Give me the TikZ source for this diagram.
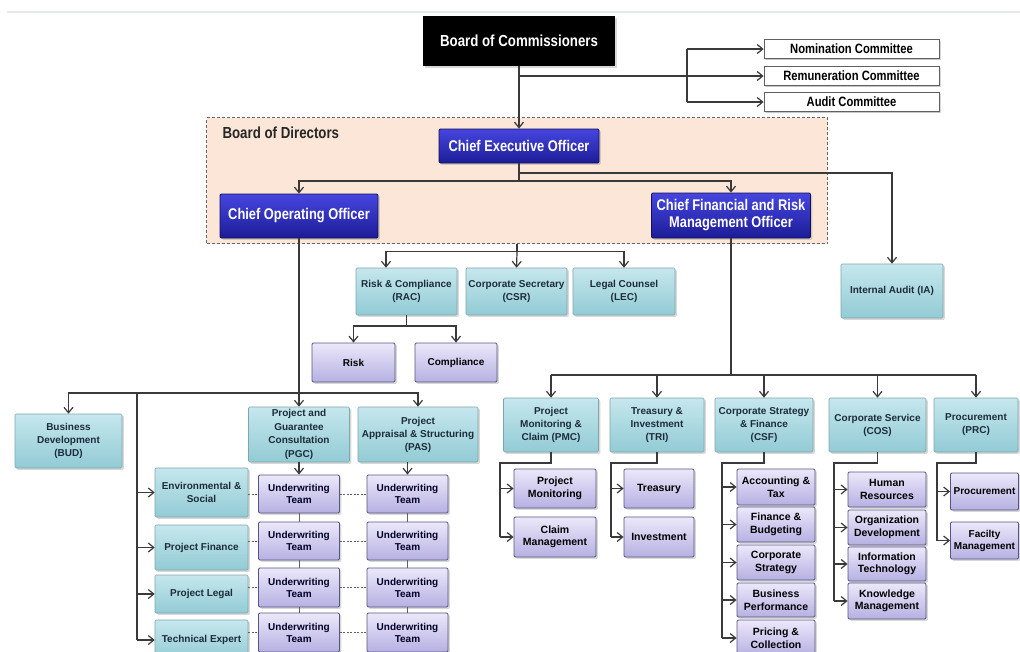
\documentclass[tikz,border=0pt]{standalone}
\usepackage{fontspec}
\setmainfont{Liberation Sans}
\newfontfamily\hdr[FakeStretch=0.83]{Liberation Sans}
\usetikzlibrary{arrows.meta,shadows,calc}

\definecolor{linec}{HTML}{3A3A3A}
\definecolor{peach}{HTML}{FBE6D8}
\definecolor{navyT}{HTML}{4646E0}
\definecolor{navyB}{HTML}{1C1C98}
\definecolor{navyD}{HTML}{101055}
\definecolor{tealT}{HTML}{C6E7ED}
\definecolor{tealB}{HTML}{92CBD5}
\definecolor{tealD}{HTML}{7FA6AE}
\definecolor{lavT}{HTML}{ECE8FA}
\definecolor{lavB}{HTML}{B6B0E2}
\definecolor{lavD}{HTML}{55557F}
\definecolor{inkT}{HTML}{1C2C3A}
\definecolor{topband}{HTML}{E8E8F0}

\tikzset{
  ln/.style={draw=linec, line width=1.2pt},
  arr/.style={ln, -{Straight Barb[length=5.5pt,width=9pt]}},
  thinln/.style={draw=linec!80, line width=0.8pt},
  dsh/.style={draw=linec!80, line width=0.9pt, dash pattern=on 2pt off 1.5pt},
  box/.style={rectangle, rounded corners=1.2pt, inner sep=1pt, align=center,
    drop shadow={shadow xshift=1.8pt, shadow yshift=-1.8pt, opacity=0.3}},
  blackbox/.style={box, rounded corners=0pt, fill=black, text=white,
    font={\hdr\bfseries\fontsize{16}{18}\selectfont}},
  combox/.style={box, rounded corners=0pt, fill=white, draw=gray!75!black, line width=0.8pt,
    text=black, font={\hdr\bfseries\fontsize{13.5}{15}\selectfont},
    drop shadow={shadow xshift=1.2pt, shadow yshift=-1.2pt, opacity=0.2}},
  navybox/.style={box, top color=navyT, bottom color=navyB, draw=navyD, line width=0.8pt,
    text=white, font={\hdr\bfseries\fontsize{15.5}{17}\selectfont}},
  tealbox/.style={box, top color=tealT, bottom color=tealB, draw=tealD, line width=0.6pt,
    text=inkT, font={\bfseries\fontsize{10}{13}\selectfont}},
  lavbox/.style={box, top color=lavT, bottom color=lavB, draw=lavD, line width=0.9pt,
    text=black, font={\bfseries\fontsize{10}{12}\selectfont}},
  lavboxR/.style={lavbox, font={\bfseries\fontsize{10.5}{12.5}\selectfont}},
  bodbox/.style={rectangle, fill=peach, draw=gray!80!black, line width=1.1pt,
    dash pattern=on 3pt off 2pt},
}

\begin{document}
\begin{tikzpicture}[x=1pt,y=-1pt]
\useasboundingbox (0,0) rectangle (1020,651);
\fill[white] (0,0) rectangle (1020,651);
\draw[topband, line width=2pt] (7,12) -- (1020,12);

% ---------- Board of Commissioners and committees ----------
\node[blackbox, minimum width=192, minimum height=50] (boc) at (519,41) {Board of Commissioners};
\node[combox, minimum width=175, minimum height=19] (nom) at (851.5,49) {Nomination Committee};
\node[combox, minimum width=175, minimum height=19] (rem) at (851.5,76) {Remuneration Committee};
\node[combox, minimum width=175, minimum height=19] (aud) at (851.5,102) {Audit Committee};

% ---------- Board of Directors ----------
\node[bodbox, minimum width=621, minimum height=126, anchor=north west] (bod) at (206,117) {};
\node[anchor=west, text=black!85, font={\hdr\bfseries\fontsize{16}{18}\selectfont}] (bodlbl) at (219,133) {Board of Directors};
\node[navybox, minimum width=160, minimum height=34] (ceo) at (519,146) {Chief Executive Officer};
\node[navybox, minimum width=158, minimum height=44] (coo) at (299,216) {Chief Operating Officer};
\node[navybox, minimum width=159, minimum height=45] (cfo) at (731,215.5) {Chief Financial and Risk\\Management Officer};

% ---------- units under the CEO ----------
\node[tealbox, minimum width=102, minimum height=54] (ia) at (892,291) {Internal Audit (IA)};
\node[tealbox, minimum width=101, minimum height=47] (rac) at (406.5,291.5) {Risk \& Compliance\\(RAC)};
\node[tealbox, minimum width=101, minimum height=47] (csr) at (516.5,291.5) {Corporate Secretary\\(CSR)};
\node[tealbox, minimum width=102, minimum height=47] (lec) at (624,291.5) {Legal Counsel\\(LEC)};
\node[lavbox, minimum width=83, minimum height=39] (risk) at (353.5,362.5) {Risk};
\node[lavbox, minimum width=82, minimum height=39] (comp) at (456,362.5) {Compliance};

% ---------- operations branch ----------
\node[tealbox, minimum width=107, minimum height=54] (bud) at (68.5,441) {Business\\Development\\(BUD)};
\node[tealbox, minimum width=101, minimum height=55, font={\bfseries\fontsize{10}{13.5}\selectfont}] (pgc) at (299,434.5) {Project and\\Guarantee\\Consultation\\(PGC)};
\node[tealbox, minimum width=120, minimum height=55] (pas) at (418,434.5) {Project\\Appraisal \& Structuring\\(PAS)};
\node[tealbox, minimum width=93, minimum height=49] (es) at (201.5,492.5) {Environmental \&\\Social};
\node[tealbox, minimum width=93, minimum height=45] (pf) at (201.5,547.5) {Project Finance};
\node[tealbox, minimum width=93, minimum height=38] (pl) at (201.5,594) {Project Legal};
\node[tealbox, minimum width=93, minimum height=40] (te) at (201.5,640) {Technical Expert};

\foreach \r/\yy/\hh in {a/494/38, b/541/38, c/587.5/39, d/632.5/39} {
  \node[lavbox, text=black!85!blue, minimum width=81, minimum height=\hh] (uw1\r) at (299,\yy) {Underwriting\\Team};
  \node[lavbox, text=black!85!blue, minimum width=81, minimum height=\hh] (uw2\r) at (407.5,\yy) {Underwriting\\Team};
}

% ---------- finance and risk branch ----------
\node[tealbox, minimum width=95, minimum height=54] (pmc) at (551,425) {Project\\Monitoring \&\\Claim (PMC)};
\node[tealbox, minimum width=94, minimum height=54] (tri) at (657,425) {Treasury \&\\Investment\\(TRI)};
\node[tealbox, minimum width=98, minimum height=54] (csf) at (764,425) {Corporate Strategy\\\& Finance\\(CSF)};
\node[tealbox, minimum width=97, minimum height=54] (cos) at (877.5,425) {Corporate Service\\(COS)};
\node[tealbox, minimum width=84, minimum height=54] (prc) at (976,425) {Procurement\\(PRC)};

\node[lavboxR, minimum width=82, minimum height=39] (pm) at (555,488.5) {Project\\Monitoring};
\node[lavboxR, minimum width=82, minimum height=40] (cm) at (555,537) {Claim\\Management};
\node[lavboxR, minimum width=70, minimum height=39] (tr) at (659,488.5) {Treasury};
\node[lavboxR, minimum width=70, minimum height=40] (inv) at (659,537) {Investment};

\node[lavboxR, minimum width=78, minimum height=36] (at) at (776,487) {Accounting \&\\Tax};
\node[lavboxR, minimum width=78, minimum height=35] (fb) at (776,524.5) {Finance \&\\Budgeting};
\node[lavboxR, minimum width=78, minimum height=35] (cs) at (776,562.5) {Corporate\\Strategy};
\node[lavboxR, minimum width=78, minimum height=34] (bp) at (776,600) {Business\\Performance};
\node[lavboxR, minimum width=78, minimum height=36] (pc) at (776,638) {Pricing \&\\Collection};

\node[lavboxR, minimum width=78, minimum height=35] (hr) at (887,489.5) {Human\\Resources};
\node[lavboxR, minimum width=78, minimum height=35] (od) at (887,527.5) {Organization\\Development};
\node[lavboxR, minimum width=78, minimum height=34] (it) at (887,564) {Information\\Technology};
\node[lavboxR, minimum width=78, minimum height=36] (km) at (887,601) {Knowledge\\Management};

\node[lavbox, inner sep=0.5pt, minimum width=68, minimum height=37] (pro) at (984.5,491.5) {Procurement};
\node[lavbox, inner sep=0.5pt, minimum width=68, minimum height=37] (fm) at (984.5,540.5) {Facilty\\Management};

% ---------- connectors: top ----------
\coordinate (kj) at (687,76);
\draw[arr] (boc.south) -- (ceo.north);
\draw[ln] (boc.south |- kj) -- (kj);
\draw[ln] (kj |- nom.west) -- (kj |- aud.west);
\draw[arr] (kj |- nom.west) -- (nom.west);
\draw[arr] (kj) -- (rem.west);
\draw[arr] (kj |- aud.west) -- (aud.west);

\coordinate (cj1) at (519,181);
\coordinate (cj2) at (519,173);
\draw[ln] (ceo.south) -- (cj1);
\draw[arr] (cj1) -| (coo.north);
\draw[arr] (cj1) -| (cfo.north);
\draw[arr] (cj2) -| (ia.north);

\coordinate (mj) at ($(bod.south)+(0,7)$);
\draw[ln] (bod.south) -- (mj);
\draw[arr] (mj) -| ([xshift=-20.5pt]rac.north);
\draw[arr] (mj) -- (csr.north);
\draw[arr] (mj) -| (lec.north);

\coordinate (rj) at (406.5,326);
\draw[ln] (rac.south) -- (rj);
\draw[arr] (rj) -| (risk.north);
\draw[arr] (rj) -| (comp.north);

% ---------- connectors: operations ----------
\coordinate (oj) at (299,393);
\coordinate (sp0) at (137,393);
\draw[ln] (coo.south) -- (oj);
\draw[arr] (oj) -| (bud.north);
\draw[arr] (oj) -- (pgc.north);
\draw[arr] (oj) -| (pas.north);
\draw[ln] (sp0) -- (sp0 |- te.west);
\foreach \n in {es,pf,pl,te} \draw[arr] (sp0 |- \n.west) -- (\n.west);

\draw[arr] (pgc.south) -- (uw1a.north);
\draw[arr] (pas.south -| uw2a.north) -- (uw2a.north);
\foreach \p/\q in {a/b, b/c, c/d} {
  \draw[thinln] (uw1\p.south) -- (uw1\q.north);
  \draw[thinln] (uw2\p.south) -- (uw2\q.north);
}
\foreach \n/\r in {es/a, pf/b, pl/c, te/d} {
  \draw[dsh] (uw1\r.west -| \n.east) -- (uw1\r.west);
  \draw[dsh] (uw1\r.east) -- (uw2\r.west);
}

% ---------- connectors: finance and risk ----------
\coordinate (fj) at (731,375);
\draw[ln] (cfo.south) -- (fj);
\draw[ln] (pmc.north |- fj) -- (prc.north |- fj);
\foreach \n in {pmc,tri,csf,cos,prc} \draw[arr] (\n.north |- fj) -- (\n.north);

\foreach \pp/\sx/\last in {pmc/500/cm, tri/611/inv, csf/722/pc, cos/834/km, prc/937/fm} {
  \coordinate (\pp S) at (\sx,463);
  \draw[ln] (\pp.south) -- (\pp.south |- \pp S) -- (\pp S) -- (\pp S |- \last.west);
}
\foreach \pp/\n in {pmc/pm, pmc/cm, tri/tr, tri/inv, csf/at, csf/fb, csf/cs, csf/bp, csf/pc,
                     cos/hr, cos/od, cos/it, cos/km, prc/pro, prc/fm}
  \draw[arr] (\pp S |- \n.west) -- (\n.west);
\end{tikzpicture}
\end{document}
